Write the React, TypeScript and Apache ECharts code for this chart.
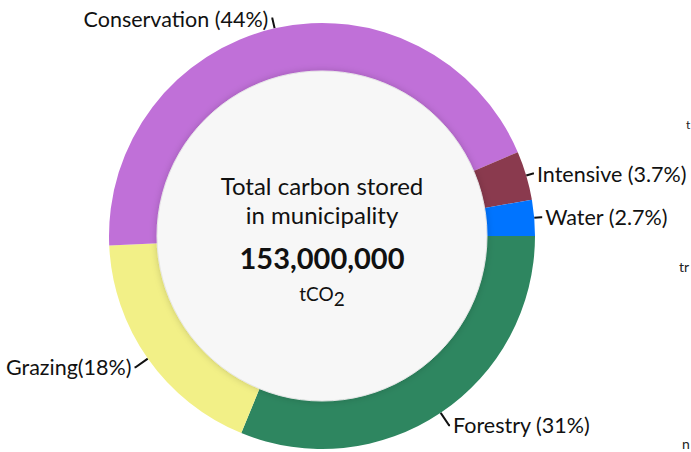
import React, { useEffect, useRef } from "react";
import * as echarts from "echarts";

const categories = ["Forestry", "Grazing", "Conservation", "Intensive", "Water"];
const shares = [31, 18, 44, 3.7, 2.7];
const labelTexts = ["Forestry (31%)", "Grazing(18%)", "Conservation (44%)", "Intensive (3.7%)", "Water (2.7%)"];
const leaderLengths = [15, 15, 10, 7, 7];
const colors = ["#2e8660", "#f2f087", "#c070d8", "#8a3a4e", "#0074ff"];
const centerTitle = ["Total carbon stored", "in municipality"];
const totalLabel = "153,000,000";
const unitLabel = "tCO";
const edgeFragments = [
  { text: "t", x: 686, y: 118, size: 12 },
  { text: "tr", x: 679, y: 259, size: 14 },
  { text: "n", x: 682, y: 436, size: 14 },
];

const FONT = "Lato, 'Open Sans', sans-serif";

export default function App() {
  const ref = useRef<HTMLDivElement>(null);
  useEffect(() => {
    document.body.style.margin = "0";
    const chart = echarts.init(ref.current!, null, { renderer: "svg" });
    chart.setOption({
      animation: false,
      backgroundColor: "#ffffff",
      series: [
        {
          type: "pie",
          center: [322, 236],
          radius: [158, 213],
          startAngle: 0,
          clockwise: true,
          avoidLabelOverlap: false,
          silent: true,
          z: 1,
          label: {
            show: true,
            position: "outside",
            formatter: (p: any) => labelTexts[p.dataIndex],
            fontFamily: FONT,
            fontSize: 21.5,
            color: "#111111",
            distanceToLabelLine: 3,
          },
          labelLine: {
            show: true,
            length: 7,
            length2: 1,
            lineStyle: { color: "#111111", width: 2 },
          },
          itemStyle: { borderWidth: 0 },
          data: categories.map((c, i) => ({
            name: c,
            value: shares[i],
            itemStyle: { color: colors[i] },
            labelLine: { length: leaderLengths[i], length2: 1 },
          })),
        },
        {
          type: "pie",
          center: [322, 236],
          radius: [0, 165],
          silent: true,
          z: 3,
          itemStyle: {
            color: "#f7f7f7",
            borderColor: "#e6e6e6",
            borderWidth: 1,
            shadowBlur: 7,
            shadowColor: "rgba(0,0,0,0.18)",
          },
          labelLine: { show: false },
          label: {
            show: true,
            position: "center",
            fontFamily: FONT,
            color: "#111111",
            formatter:
              "{a|" + centerTitle[0] + "}\n{a|" + centerTitle[1] + "}\n{b|" + totalLabel + "}\n{c|" + unitLabel + "}{s|2}",
            rich: {
              a: { fontFamily: FONT, fontSize: 24, lineHeight: 29, color: "#111111" },
              b: { fontFamily: FONT, fontSize: 29, fontWeight: "bold", lineHeight: 50, color: "#111111", padding: [6, 0, 0, 0] },
              c: { fontFamily: FONT, fontSize: 19, lineHeight: 22, color: "#111111", verticalAlign: "middle", padding: [6, 0, 0, 0] },
              s: { fontFamily: FONT, fontSize: 19, lineHeight: 22, color: "#111111", verticalAlign: "middle", padding: [16, 0, 0, 0] },
            },
          },
          data: [{ name: "center", value: 1 }],
        },
      ],
      graphic: edgeFragments.map((f) => ({
        type: "text",
        x: f.x,
        y: f.y,
        style: { text: f.text, fontFamily: FONT, fontSize: f.size, fill: "#222222" },
      })),
    });
    return () => chart.dispose();
  }, []);
  return <div ref={ref} style={{ width: 691, height: 452 }} />;
}
